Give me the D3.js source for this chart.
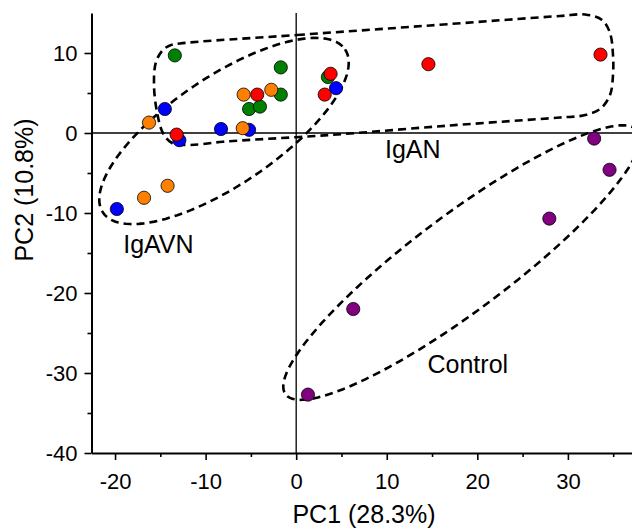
<!DOCTYPE html>
<html>
<head>
<meta charset="utf-8">
<script src="https://cdn.jsdelivr.net/npm/d3@7"></script>
<style>
body{margin:0;background:#fff;}
text{font-family:"Liberation Sans",Arial,sans-serif;}
</style>
</head>
<body>
<svg width="632" height="529"></svg>
<script>
// PCA scores (one pair of arrays per colour)
var blueX=[4.4,-14.5,-8.3,-5.2,-12.9,-19.8],
    blueY=[5.6,3.0,0.5,0.4,-0.9,-9.5];
var greenX=[-13.4,-1.7,3.5,-1.7,-5.2,-4.0],
    greenY=[9.7,8.2,7.0,4.8,3.0,3.3];
var orangeX=[-5.8,-2.75,-16.25,-5.9,-16.8,-14.2],
    orangeY=[4.8,5.4,1.3,0.6,-8.1,-6.6];
var redX=[3.8,3.15,-4.3,-13.2,14.6,33.6],
    redY=[7.4,4.8,4.8,-0.2,8.6,9.8];
var purpleX=[32.9,34.6,27.95,6.3,1.3],
    purpleY=[-0.7,-4.6,-10.7,-22.0,-32.7];

var xMajor=[-20,-10,0,10,20,30], xMinor=[-15,-5,5,15,25,35];
var yMajor=[-40,-30,-20,-10,0,10], yMinor=[-35,-25,-15,-5,5];

// group outline for IgAN (data units)
var ignanOutline=[[-12.83,11.19],[0.09,12.25],[14.77,13.44],[29.13,14.63],[31.89,14.81],[33.77,14.13],
  [34.65,12.5],[34.98,9.75],[34.98,7.25],[34.65,4.75],[33.55,3.0],[31.67,2.19],[29.13,1.94],
  [16.98,0.94],[3.73,-0.25],[-8.08,-1.09],[-11.73,-1.5],[-13.71,-1.25],[-14.71,0.0],
  [-15.37,2.63],[-15.7,6.0],[-15.48,8.88],[-14.71,10.38],[-13.94,10.94]];

var groupLabels=[
  {text:"IgAN",x:9.8,y:-3.16},
  {text:"IgAVN",x:-19.1,y:-15},
  {text:"Control",x:14.5,y:-30}
];

function main()
{
var svg=d3.select("svg");

var x=d3.scaleLinear().domain([-22.6,37.1]).range([91.5,632.2]),
    y=d3.scaleLinear().domain([-40,15]).range([453,13]);

// zero lines
svg.append("line")
  .attr("x1",x(0)).attr("x2",x(0))
  .attr("y1",y(15)).attr("y2",y(-40))
  .attr("stroke","#000").attr("stroke-width",1.3);
svg.append("line")
  .attr("x1",x(-22.6)).attr("x2",632)
  .attr("y1",y(0)).attr("y2",y(0))
  .attr("stroke","#000").attr("stroke-width",1.3);

// dashed outlines
var line=d3.line()
  .x(function(d){return x(d[0]);})
  .y(function(d){return y(d[1]);})
  .curve(d3.curveCatmullRomClosed.alpha(0.5));

svg.append("path")
  .attr("d",line(ignanOutline))
  .attr("fill","none").attr("stroke","#000")
  .attr("stroke-width",2.6).attr("stroke-dasharray","8,5");

function ellipse(cx,cy,a,b,deg)
{
  var t=deg*Math.PI/180, pts=[];
  for(var i=0;i<120;i++){
    var s=i/120*2*Math.PI;
    var ex=a*Math.cos(s), ey=b*Math.sin(s);
    pts.push([x(cx)+ex*Math.cos(t)-ey*Math.sin(t), y(cy)+ex*Math.sin(t)+ey*Math.cos(t)]);
  }
  return "M"+pts.join("L")+"Z";
}

svg.append("path")
  .attr("d",ellipse(-7.97,0.25,146,54,-34))
  .attr("fill","none").attr("stroke","#000")
  .attr("stroke-width",2.6).attr("stroke-dasharray","8,5");

svg.append("path")
  .attr("d",ellipse(18.28,-16.2,220,48,-36.8))
  .attr("fill","none").attr("stroke","#000")
  .attr("stroke-width",2.6).attr("stroke-dasharray","8,5");

// points
var series=[
  {xs:blueX,ys:blueY,color:"#0000ff"},
  {xs:greenX,ys:greenY,color:"#008000"},
  {xs:orangeX,ys:orangeY,color:"#ff8000"},
  {xs:redX,ys:redY,color:"#ff0000"},
  {xs:purpleX,ys:purpleY,color:"#800080"}
];

series.forEach(function(s){
  svg.append("g").selectAll("circle")
    .data(s.xs.map(function(v,i){return [v,s.ys[i]];}))
    .enter().append("circle")
    .attr("cx",function(d){return x(d[0]);})
    .attr("cy",function(d){return y(d[1]);})
    .attr("r",6.6)
    .attr("fill",s.color)
    .attr("stroke","#000")
    .attr("stroke-width",0.8);
});

// group labels
svg.selectAll(".glabel")
  .data(groupLabels)
  .enter().append("text")
  .attr("x",function(d){return x(d.x);})
  .attr("y",function(d){return y(d.y);})
  .attr("font-size","25px")
  .text(function(d){return d.text;});

// axes (plain hyphen for negatives, like the original)
var fmt=function(d){return String(d);};

var xg=svg.append("g")
  .attr("transform","translate(0,"+y(-40)+")");
xg.call(d3.axisBottom(x).tickValues(xMajor).tickFormat(fmt).tickSize(7).tickSizeOuter(0).tickPadding(13));
xg.append("g").call(d3.axisBottom(x).tickValues(xMinor).tickSize(4).tickSizeOuter(0).tickFormat(""))
  .select(".domain").remove();

var yg=svg.append("g")
  .attr("transform","translate("+x(-22.6)+",0)");
yg.call(d3.axisLeft(y).tickValues(yMajor).tickFormat(fmt).tickSize(7).tickSizeOuter(0).tickPadding(7));
yg.append("g").call(d3.axisLeft(y).tickValues(yMinor).tickSize(4).tickSizeOuter(0).tickFormat(""))
  .select(".domain").remove();

svg.selectAll(".domain").attr("stroke-width",2);
svg.selectAll(".tick line").attr("stroke-width",1.6);
svg.selectAll(".tick text")
  .attr("font-family","Liberation Sans, Arial, sans-serif")
  .attr("font-size","22px")
  .attr("fill","#000");

// axis titles
svg.append("text")
  .attr("x",364).attr("y",523)
  .attr("text-anchor","middle")
  .attr("font-size","25px")
  .text("PC1 (28.3%)");

svg.append("text")
  .attr("transform","translate(33,190) rotate(-90)")
  .attr("text-anchor","middle")
  .attr("font-size","25px")
  .text("PC2 (10.8%)");
}
main();
</script>
</body>
</html>
